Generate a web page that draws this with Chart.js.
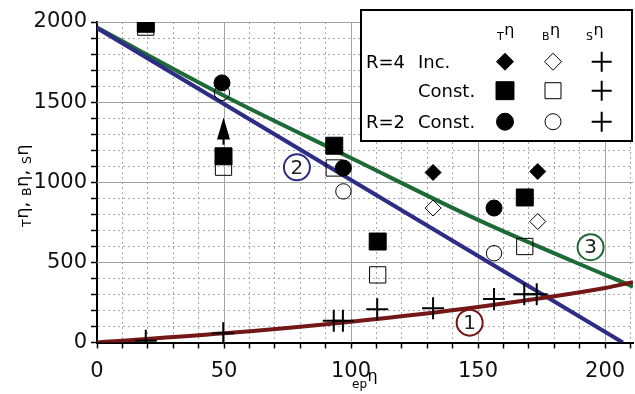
<!DOCTYPE html>
<html>
<head>
<meta charset="utf-8">
<script src="https://cdn.jsdelivr.net/npm/chart.js@4"></script>
<style>
  html, body { margin: 0; padding: 0; background: #fff; }
  #wrap { position: relative; width: 635px; height: 394px; }
</style>
</head>
<body>
<div id="wrap"><canvas id="etaChart"></canvas></div>
<script>
// R=4, increasing
const incX = [132.3, 173.5];
const incT = [1061, 1067];
const incB = [839, 755];
// R=4, constant
const constX = [19.2, 49.8, 93.4, 110.5, 168.4];
const constT = [1989, 1162, 1228, 630, 905];
const constB = [1968, 1094, 1089, 422, 599];
// R=2, constant
const r2X = [49.2, 97.0, 156.3];
const r2T = [1620, 1089, 839];
const r2B = [1558, 943, 557];
// S eta, all runs
const sX = [19.2, 49.7, 93.2, 96.8, 110.3, 132.3, 156.3, 168.2, 173.1];
const sY = [11, 57, 136, 136, 207, 214, 272, 301, 301];
// curves 1, 2, 3
const curve1X = [0, 50, 100, 150, 200, 211];
const curve1Y = [0, 57, 130, 222, 340, 377];
const curve2X = [0, 207];
const curve2Y = [1962, 0];
const curve3X = [0, 50, 100, 150, 200, 211];
const curve3Y = [1965, 1540, 1151, 765, 422, 349];
// circled curve numbers
const curveLabels = ["1", "2", "3"];
const curveLabelX = [146.7, 78.7, 194.3];
const curveLabelY = [124, 1093, 595];
// arrow at ep eta = 50
const arrowX = 49.8;
const arrowFrom = 1234;
const arrowTo = 1404;
// labelled ticks
const xTicks = [0, 50, 100, 150, 200];
const yTicks = [0, 500, 1000, 1500, 2000];

const FONT = "'DejaVu Sans', sans-serif";
const MAROON = "#741717";
const NAVY = "#2d2d86";
const GREEN = "#1d6a36";

const pts = (xs, ys) => xs.map((x, i) => ({ x: x, y: ys[i] }));

function curve(xs, ys, color) {
  return {
    data: pts(xs, ys),
    showLine: true,
    borderColor: color,
    borderWidth: 4,
    pointRadius: 0,
    fill: false,
    cubicInterpolationMode: "monotone",
    order: 2
  };
}

function marks(xs, ys, style, radius, filled, width) {
  return {
    data: pts(xs, ys),
    showLine: false,
    pointStyle: style,
    pointRadius: radius,
    pointBackgroundColor: filled ? "#000" : "rgba(0,0,0,0)",
    pointBorderColor: "#000",
    pointBorderWidth: width || 1,
    order: 1
  };
}

function drawEta(ctx, sub, x, y, subSize, etaSize, drop) {
  ctx.font = subSize + "px " + FONT;
  ctx.fillText(sub, x, y + drop);
  x += ctx.measureText(sub).width + 0.5;
  ctx.font = etaSize + "px " + FONT;
  ctx.fillText("η", x, y);
  return x + ctx.measureText("η").width;
}

const decor = {
  id: "decor",
  beforeDatasetsDraw(chart) {
    const { ctx, chartArea: a, scales: { x, y } } = chart;
    ctx.save();
    ctx.strokeStyle = "#a3a3a3";
    ctx.lineWidth = 1;
    ctx.beginPath();
    xTicks.forEach(function (v) {
      if (v === 0) return;
      const px = Math.round(x.getPixelForValue(v)) + 0.5;
      ctx.moveTo(px, a.top);
      ctx.lineTo(px, a.bottom);
    });
    yTicks.forEach(function (v) {
      if (v === 0) return;
      const py = Math.round(y.getPixelForValue(v)) + 0.5;
      ctx.moveTo(a.left, py);
      ctx.lineTo(a.right, py);
    });
    ctx.stroke();
    ctx.restore();
  },
  afterDatasetsDraw(chart) {
    const { ctx, scales: { x, y } } = chart;
    ctx.save();

    // arrow
    const ax = x.getPixelForValue(arrowX);
    const ay0 = y.getPixelForValue(arrowFrom);
    const ay1 = y.getPixelForValue(arrowTo);
    ctx.strokeStyle = "#000";
    ctx.fillStyle = "#000";
    ctx.lineWidth = 2;
    ctx.beginPath();
    ctx.moveTo(ax, ay0);
    ctx.lineTo(ax, ay1 + 20);
    ctx.stroke();
    ctx.beginPath();
    ctx.moveTo(ax, ay1);
    ctx.lineTo(ax - 6.5, ay1 + 22);
    ctx.lineTo(ax + 6.5, ay1 + 22);
    ctx.closePath();
    ctx.fill();

    // circled curve numbers
    const colors = [MAROON, NAVY, GREEN];
    curveLabels.forEach(function (txt, i) {
      const px = x.getPixelForValue(curveLabelX[i]);
      const py = y.getPixelForValue(curveLabelY[i]);
      ctx.beginPath();
      ctx.arc(px, py, 13, 0, Math.PI * 2);
      ctx.fillStyle = "#fff";
      ctx.fill();
      ctx.lineWidth = 2;
      ctx.strokeStyle = colors[i];
      ctx.stroke();
      ctx.fillStyle = "#222";
      ctx.font = "20px " + FONT;
      ctx.textAlign = "center";
      ctx.textBaseline = "middle";
      ctx.fillText(txt, px, py + 1);
    });
    ctx.restore();
  },
  afterDraw(chart) {
    const ctx = chart.ctx;
    const drawPoint = Chart.helpers.drawPoint;
    ctx.save();

    // legend box
    ctx.fillStyle = "#fff";
    ctx.fillRect(361, 10, 271, 131);
    ctx.strokeStyle = "#000";
    ctx.lineWidth = 2;
    ctx.strokeRect(361, 10, 271, 131);

    ctx.fillStyle = "#000";
    ctx.textAlign = "left";
    ctx.textBaseline = "alphabetic";
    drawEta(ctx, "T", 497, 35, 11, 16, 5);
    drawEta(ctx, "B", 542, 35, 11, 16, 5);
    drawEta(ctx, "S", 586, 35, 11, 16, 5);

    ctx.font = "18px " + FONT;
    ctx.fillText("R=4", 366, 68);
    ctx.fillText("Inc.", 418, 68);
    ctx.fillText("Const.", 418, 97);
    ctx.fillText("R=2", 366, 128);
    ctx.fillText("Const.", 418, 128);

    const rows = [61.7, 90.7, 121.7];
    const styles = [["rectRot", 8.5, 8.5], ["rect", 12.7, 11.3], ["circle", 8.5, 8]];
    rows.forEach(function (ry, i) {
      const st = styles[i];
      ctx.lineWidth = 1;
      ctx.strokeStyle = "#000";
      ctx.fillStyle = "#000";
      drawPoint(ctx, { pointStyle: st[0], radius: st[1], borderWidth: 1, rotation: 0 }, 505, ry);
      ctx.fillStyle = "#fff";
      drawPoint(ctx, { pointStyle: st[0], radius: st[2], borderWidth: 1, rotation: 0 }, 553, ry);
      ctx.lineWidth = 2;
      drawPoint(ctx, { pointStyle: "cross", radius: 10, borderWidth: 2, rotation: 0 }, 601.7, ry);
    });

    // x axis title
    ctx.fillStyle = "#000";
    drawEta(ctx, "ep", 352, 381, 12, 16, 7);

    // y axis title, rotated
    ctx.translate(28, 227);
    ctx.rotate(-Math.PI / 2);
    let tx = 0;
    tx = drawEta(ctx, "T", tx, 0, 12.5, 18, 3);
    ctx.font = "18px " + FONT;
    ctx.fillText(",", tx, 0);
    tx += ctx.measureText(", ").width;
    tx = drawEta(ctx, "B", tx, 0, 12.5, 18, 3);
    ctx.font = "18px " + FONT;
    ctx.fillText(",", tx, 0);
    tx += ctx.measureText(", ").width;
    drawEta(ctx, "S", tx, 0, 12.5, 18, 3);
    ctx.restore();
  }
};

const gridColor = function (major) {
  return function (c) {
    const v = c.tick ? c.tick.value : 0;
    if (v % major === 0) return "rgba(0,0,0,0)";
    return "#a8a8a8";
  };
};

new Chart(document.getElementById("etaChart"), {
  type: "scatter",
  data: {
    datasets: [
      marks(incX, incT, "rectRot", 8, true),
      marks(incX, incB, "rectRot", 8, false),
      marks(constX, constT, "rect", 12, true),
      marks(constX, constB, "rect", 11.5, false),
      marks(r2X, r2T, "circle", 8, true),
      marks(r2X, r2B, "circle", 7.7, false),
      marks(sX, sY, "cross", 11, false, 2),
      curve(curve1X, curve1Y, MAROON),
      curve(curve2X, curve2Y, NAVY),
      curve(curve3X, curve3Y, GREEN)
    ]
  },
  options: {
    responsive: true,
    maintainAspectRatio: false,
    animation: false,
    layout: { autoPadding: false, padding: { top: 22, right: 2, left: 0, bottom: 0 } },
    plugins: {
      legend: { display: false },
      tooltip: { enabled: false }
    },
    scales: {
      x: {
        type: "linear",
        min: 0,
        max: 211,
        afterFit: function (scale) {
          scale.height = 51.5;
          scale.paddingLeft = 0;
          scale.paddingRight = 0;
        },
        ticks: {
          stepSize: 10,
          autoSkip: false,
          includeBounds: false,
          maxRotation: 0,
          padding: 10,
          color: "#111",
          font: { family: FONT, size: 21 },
          callback: function (v) { return xTicks.includes(v) ? v : ""; }
        },
        grid: {
          color: gridColor(50),
          lineWidth: 1,
          tickColor: "#000",
          tickLength: 6,
          tickWidth: 1.5
        },
        border: { color: "#000", width: 2, dash: [2, 3] }
      },
      y: {
        type: "linear",
        min: 0,
        max: 2000,
        afterFit: function (scale) {
          scale.width = 97;
          scale.paddingTop = 0;
          scale.paddingBottom = 0;
        },
        ticks: {
          stepSize: 100,
          autoSkip: false,
          includeBounds: false,
          padding: 4,
          color: "#111",
          font: { family: FONT, size: 21 },
          callback: function (v) { return yTicks.includes(v) ? v : ""; }
        },
        grid: {
          color: gridColor(500),
          lineWidth: 1,
          tickColor: "#000",
          tickLength: 6,
          tickWidth: 1.5
        },
        border: { color: "#000", width: 2, dash: [2, 3] }
      }
    }
  },
  plugins: [decor]
});
</script>
</body>
</html>
